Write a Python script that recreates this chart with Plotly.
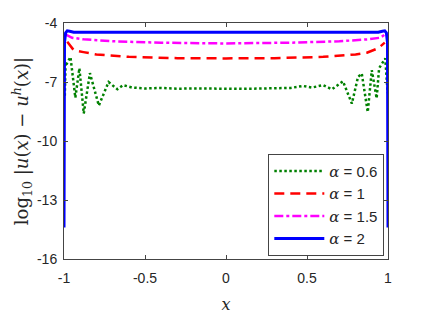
import plotly.graph_objects as go

# ---- data ----
x_a06 = [-0.995, -0.99, -0.985, -0.96, -0.93, -0.905, -0.878, -0.84, -0.785, -0.725,
         -0.67, -0.635, -0.58, -0.5, -0.4, -0.3, -0.2, -0.1, 0.0, 0.1, 0.2, 0.3, 0.4,
         0.475, 0.53, 0.6, 0.654, 0.722, 0.777, 0.815, 0.838, 0.875, 0.9, 0.93, 0.945,
         0.983, 0.998]
y_a06 = [-7.7, -6.0, -6.1, -5.73, -7.8, -6.3, -8.6, -6.55, -8.2, -7.0,
         -7.37, -7.16, -7.28, -7.33, -7.3, -7.34, -7.33, -7.35, -7.34, -7.35, -7.34, -7.33, -7.3,
         -7.2, -7.28, -7.16, -7.37, -6.96, -8.1, -6.74, -6.57, -8.53, -6.4, -7.83, -6.3,
         -5.8, -7.57]

x_a1 = [-0.98, -0.965, -0.94, -0.88, -0.8, -0.6, -0.3, 0.0, 0.3, 0.6, 0.8, 0.87, 0.94, 0.98]
y_a1 = [-4.95, -5.12, -5.38, -5.48, -5.6, -5.72, -5.79, -5.8, -5.79, -5.72, -5.6, -5.51, -5.28, -5.0]

x_a15 = [-0.99, -0.983, -0.95, -0.88, -0.7, -0.4, 0.0, 0.4, 0.7, 0.88, 0.95, 0.97, 0.99]
y_a15 = [-4.55, -4.61, -4.75, -4.83, -4.93, -5.0, -5.04, -5.0, -4.93, -4.83, -4.75, -4.65, -4.5]

x_a2 = [-1.0, -0.997, -0.99, -0.98, -0.965, -0.94, 0.0, 0.94, 0.965, 0.98, 0.99, 0.997, 1.0]
y_a2 = [-14.4, -5.0, -4.5, -4.4, -4.42, -4.47, -4.47, -4.47, -4.42, -4.4, -4.5, -5.0, -14.4]

x_ticks = [-1, -0.5, 0, 0.5, 1]
x_ticklabels = ["-1", "-0.5", "0", "0.5", "1"]
y_ticks = [-16, -13, -10, -7, -4]
y_ticklabels = ["-16", "-13", "-10", "-7", "-4"]

alpha_labels = ["0.6", "1", "1.5", "2"]

def lab(v):
    return '<span style="font-family:DejaVu Serif"><i>α</i></span> = ' + v

fig = go.Figure()
fig.add_trace(go.Scatter(x=x_a06, y=y_a06, mode="lines", name=lab(alpha_labels[0]),
                         line=dict(color="#008000", width=2.5, dash="2.5px,2.5px"),
                         cliponaxis=False))
fig.add_trace(go.Scatter(x=x_a1, y=y_a1, mode="lines", name=lab(alpha_labels[1]),
                         line=dict(color="#ff0000", width=2.5, dash="10px,6px"),
                         cliponaxis=False))
fig.add_trace(go.Scatter(x=x_a15, y=y_a15, mode="lines", name=lab(alpha_labels[2]),
                         line=dict(color="#ff00ff", width=2.5, dash="9px,3px,3px,3px"),
                         cliponaxis=False))
fig.add_trace(go.Scatter(x=x_a2, y=y_a2, mode="lines", name=lab(alpha_labels[3]),
                         line=dict(color="#0000ff", width=3),
                         cliponaxis=False))

axis_common = dict(showgrid=False, zeroline=False, showline=True, linecolor="#444",
                   linewidth=1, mirror="ticks", ticks="inside", ticklen=4,
                   automargin=False,
                   tickcolor="#444", tickfont=dict(family="Liberation Sans, Arial",
                                                   size=14, color="#262626"))

fig.update_layout(
    width=428, height=314,
    margin=dict(l=64, r=40, t=23, b=55),
    paper_bgcolor="white", plot_bgcolor="white",
    showlegend=True,
    legend=dict(x=0.9886, y=0.014, xanchor="right", yanchor="bottom",
                bgcolor="white", bordercolor="#444", borderwidth=1,
                itemwidth=50,
                font=dict(family="Liberation Sans, Arial", size=15, color="#262626"),
                tracegroupgap=0),
    xaxis=dict(range=[-1, 1], tickvals=x_ticks, ticktext=x_ticklabels,
               ticklabelstandoff=6,
               title=dict(text="<i>x</i>", font=dict(family="DejaVu Serif", size=16,
                                                     color="#262626"), standoff=14),
               **axis_common),
    yaxis=dict(range=[-16, -4], tickvals=y_ticks, ticktext=y_ticklabels,
               ticklabelstandoff=3,
               title=dict(text="log<sub>10</sub> |<i>u</i>(<i>x</i>) − <i>u</i><sup><i>h</i></sup>(<i>x</i>)|",
                          font=dict(family="DejaVu Serif", size=18, color="#262626"),
                          standoff=3),
               **axis_common),
)

fig.write_html("out.html", config={"displayModeBar": False},
               post_script="document.body.style.margin='0';document.body.style.overflow='hidden';")
